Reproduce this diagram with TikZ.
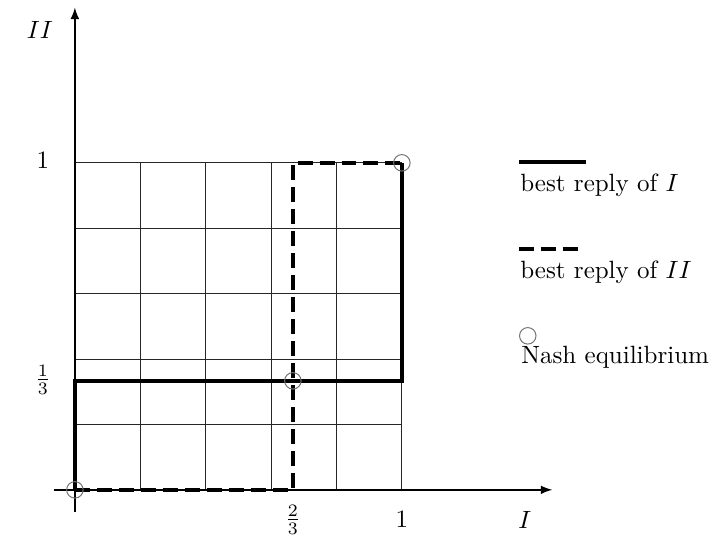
\documentclass[tikz,border=0pt]{standalone}
\begin{document}
\begin{tikzpicture}[x=4.6cm, y=4.6cm,
  every node/.style={inner sep=1pt},
  axis/.style={semithick, -latex},
  gridline/.style={thin, black!85},
  replyI/.style={line width=1.6pt},
  replyII/.style={line width=1.6pt, dash pattern=on 6pt off 2.8pt},
  nash/.style={circle, draw=black!55, thin, minimum size=6.6pt, inner sep=0pt},
  legtext/.style={anchor=west, inner sep=0pt}
]
\useasboundingbox (-0.229,-0.153) rectangle (1.979,1.498);

% corners of the square
\coordinate (O) at (0,0);
\coordinate (Ithird) at (0,1/3);
\coordinate (Rthird) at (1,1/3);
\coordinate (twothirds) at (2/3,0);
\coordinate (topmid) at (2/3,1);
\coordinate (C) at (1,1);

% axes
\coordinate (xstart) at (-0.065,0);
\coordinate (xend) at (1.46,0);
\coordinate (ystart) at (0,-0.067);
\coordinate (yend) at (0,1.475);
\draw[gridline] (0,0) grid[step=0.2] (1,1);
\draw[axis] (xstart) -- (xend);
\draw[axis] (ystart) -- (yend);

\node (lII) at (-0.107,1.407) {$II$};
\node (lI) at (1.376,-0.092) {$I$};
\node (ly1) at (-0.098,1.006) {$1$};
\node (ly3) at (-0.098,0.336) {$\frac{1}{3}$};
\node (lx23) at (2/3,-0.092) {$\frac{2}{3}$};
\node (lx1) at (1,-0.092) {$1$};

% best replies
\draw[replyI] (O) -- (Ithird) -- (Rthird) -- (C);
\draw[replyII] (O) -- (twothirds) -- (topmid) -- (C);

% equilibria
\node[nash] (n1) at (O) {};
\node[nash] (n2) at (2/3,1/3) {};
\node[nash] (n3) at (C) {};

% legend
\coordinate (la) at (1.358,1.003);
\coordinate (lb) at (1.563,1.003);
\draw[replyI] (la) -- (lb);
\node[legtext] (t1) at (1.361,0.930) {best reply of $I$};
\coordinate (lc) at (1.358,0.737);
\coordinate (ld) at (1.541,0.737);
\draw[replyII] (lc) -- (ld);
\node[legtext] (t2) at (1.361,0.664) {best reply of $II$};
\node[nash] (n4) at (1.385,0.471) {};
\node[legtext] (t3) at (1.364,0.404) {Nash equilibrium};
\end{tikzpicture}
\end{document}
